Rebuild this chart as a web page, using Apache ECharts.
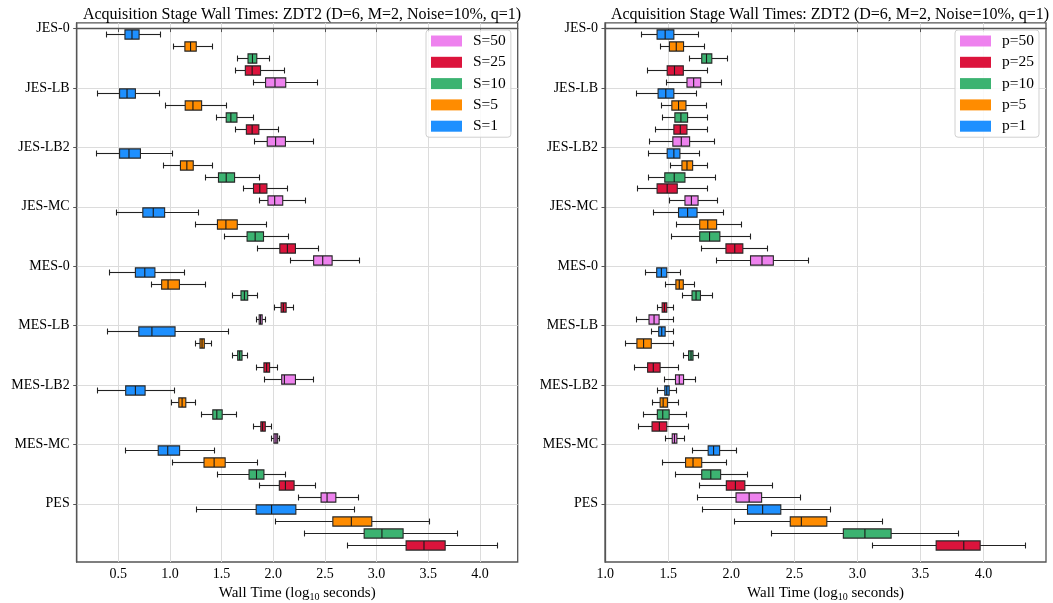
<!DOCTYPE html>
<html>
<head>
<meta charset="utf-8">
<script src="https://cdn.jsdelivr.net/npm/echarts@6/dist/echarts.min.js"></script>
<style>
  html, body { margin: 0; padding: 0; background: #fff; }
  #chart { width: 1053px; height: 603px; }
</style>
</head>
<body>
<div id="chart"></div>
<script>
// categories (top to bottom)
var categories = ['JES-0', 'JES-LB', 'JES-LB2', 'JES-MC', 'MES-0', 'MES-LB', 'MES-LB2', 'MES-MC', 'PES'];
var leftNames = ['S=1', 'S=5', 'S=10', 'S=25', 'S=50'];
var rightNames = ['p=1', 'p=5', 'p=10', 'p=25', 'p=50'];
var colors = ['#1E90FF', '#FF8C00', '#3CB371', '#DC143C', '#EE82EE'];
var leftTicks = [0.5, 1.0, 1.5, 2.0, 2.5, 3.0, 3.5, 4.0];
var rightTicks = [1.0, 1.5, 2.0, 2.5, 3.0, 3.5, 4.0];

// each entry: [whisker low, q1, median, q3, whisker high] (log10 seconds)
var s1 = [
  [0.383, 0.565, 0.633, 0.702, 0.910],
  [0.298, 0.513, 0.585, 0.666, 0.897],
  [0.292, 0.513, 0.604, 0.715, 1.024],
  [0.480, 0.738, 0.839, 0.949, 1.275],
  [0.415, 0.666, 0.757, 0.855, 1.138],
  [0.399, 0.699, 0.826, 1.050, 1.568],
  [0.295, 0.572, 0.666, 0.760, 1.040],
  [0.572, 0.887, 0.979, 1.094, 1.428],
  [1.255, 1.835, 1.984, 2.219, 2.785]
];
var s5 = [
  [1.037, 1.145, 1.200, 1.255, 1.415],
  [0.962, 1.148, 1.223, 1.307, 1.548],
  [0.939, 1.102, 1.164, 1.226, 1.415],
  [1.249, 1.460, 1.542, 1.652, 1.939],
  [0.819, 0.920, 0.982, 1.092, 1.346],
  [1.245, 1.291, 1.311, 1.333, 1.402],
  [1.018, 1.086, 1.118, 1.154, 1.252],
  [1.024, 1.330, 1.428, 1.535, 1.844],
  [2.023, 2.577, 2.756, 2.954, 3.508]
];
var s10 = [
  [1.659, 1.756, 1.799, 1.841, 1.968],
  [1.450, 1.545, 1.590, 1.649, 1.805],
  [1.340, 1.470, 1.545, 1.626, 1.870],
  [1.529, 1.747, 1.825, 1.906, 2.147],
  [1.610, 1.688, 1.721, 1.753, 1.851],
  [1.610, 1.656, 1.675, 1.698, 1.747],
  [1.307, 1.415, 1.454, 1.506, 1.643],
  [1.464, 1.766, 1.838, 1.910, 2.121],
  [2.307, 2.880, 3.052, 3.257, 3.788]
];
var s25 = [
  [1.633, 1.730, 1.796, 1.877, 2.105],
  [1.639, 1.740, 1.796, 1.861, 2.053],
  [1.717, 1.809, 1.870, 1.939, 2.137],
  [1.851, 2.064, 2.137, 2.215, 2.440],
  [2.017, 2.076, 2.098, 2.125, 2.193],
  [1.838, 1.910, 1.936, 1.965, 2.043],
  [1.812, 1.880, 1.897, 1.923, 1.988],
  [1.864, 2.059, 2.118, 2.202, 2.408],
  [2.717, 3.286, 3.459, 3.664, 4.172]
];
var s50 = [
  [1.812, 1.926, 2.017, 2.121, 2.427],
  [1.815, 1.942, 2.023, 2.118, 2.391],
  [1.864, 1.949, 2.014, 2.092, 2.313],
  [2.163, 2.391, 2.479, 2.570, 2.837],
  [1.835, 1.864, 1.877, 1.893, 1.923],
  [1.913, 2.082, 2.108, 2.215, 2.391],
  [1.988, 2.007, 2.027, 2.043, 2.063],
  [2.242, 2.463, 2.521, 2.606, 2.824],
  null
];

var p1 = [
  [1.291, 1.411, 1.475, 1.544, 1.739],
  [1.248, 1.419, 1.480, 1.544, 1.723],
  [1.344, 1.491, 1.544, 1.592, 1.749],
  [1.381, 1.581, 1.653, 1.728, 1.941],
  [1.317, 1.408, 1.445, 1.488, 1.595],
  [1.365, 1.424, 1.448, 1.475, 1.544],
  [1.416, 1.472, 1.488, 1.507, 1.563],
  [1.688, 1.816, 1.859, 1.907, 2.040],
  [1.773, 2.128, 2.248, 2.392, 2.787]
];
var p5 = [
  [1.437, 1.509, 1.563, 1.621, 1.789],
  [1.445, 1.528, 1.581, 1.640, 1.803],
  [1.517, 1.608, 1.648, 1.693, 1.813],
  [1.563, 1.749, 1.813, 1.883, 2.080],
  [1.480, 1.560, 1.587, 1.619, 1.704],
  [1.157, 1.251, 1.304, 1.365, 1.541],
  [1.371, 1.435, 1.459, 1.493, 1.579],
  [1.451, 1.637, 1.696, 1.765, 1.960],
  [2.027, 2.467, 2.555, 2.757, 3.197]
];
var p10 = [
  [1.667, 1.765, 1.803, 1.845, 1.968],
  [1.456, 1.552, 1.600, 1.653, 1.811],
  [1.339, 1.472, 1.547, 1.632, 1.875],
  [1.528, 1.749, 1.827, 1.909, 2.152],
  [1.613, 1.688, 1.720, 1.755, 1.853],
  [1.619, 1.661, 1.680, 1.696, 1.741],
  [1.307, 1.413, 1.456, 1.507, 1.643],
  [1.555, 1.765, 1.837, 1.915, 2.128],
  [2.315, 2.888, 3.059, 3.267, 3.800]
];
var p25 = [
  [1.333, 1.491, 1.549, 1.619, 1.808],
  [1.397, 1.544, 1.595, 1.648, 1.811],
  [1.253, 1.411, 1.491, 1.571, 1.808],
  [1.760, 1.957, 2.027, 2.091, 2.288],
  [1.416, 1.451, 1.469, 1.488, 1.544],
  [1.232, 1.336, 1.381, 1.435, 1.581],
  [1.261, 1.371, 1.429, 1.488, 1.664],
  [1.747, 1.960, 2.032, 2.107, 2.325],
  [3.123, 3.624, 3.843, 3.973, 4.336]
];
var p50 = [
  [1.485, 1.648, 1.701, 1.757, 1.923],
  [1.349, 1.536, 1.603, 1.669, 1.869],
  [1.507, 1.632, 1.683, 1.736, 1.891],
  [1.880, 2.152, 2.243, 2.333, 2.608],
  [1.248, 1.347, 1.387, 1.427, 1.544],
  [1.467, 1.557, 1.587, 1.621, 1.717],
  [1.475, 1.531, 1.549, 1.568, 1.632],
  [1.731, 2.037, 2.141, 2.240, 2.547],
  null
];

var leftSets = [s1, s5, s10, s25, s50];
var rightSets = [p1, p5, p10, p25, p50];

var FONT = 'Liberation Serif';
var chart = echarts.init(document.getElementById('chart'));

function crisp(v) {
  return Math.round(v - 0.5) + 0.5;
}

// box k sits at category index + 0.1 + 0.2*k
function makeRender(k) {
  return function (params, api) {
    var yPos = api.value(0) + 0.1 + 0.2 * k;
    var lo = api.coord([api.value(1), yPos]);
    var q1 = api.coord([api.value(2), yPos]);
    var md = api.coord([api.value(3), yPos]);
    var q3 = api.coord([api.value(4), yPos]);
    var hi = api.coord([api.value(5), yPos]);
    var bh = api.size([0, 0.155])[1];
    var ch = api.size([0, 0.1])[1];
    var y = crisp(lo[1]);
    var lineStyle = { stroke: '#222', lineWidth: 1.1 };
    return {
      type: 'group',
      children: [
        { type: 'line', shape: { x1: lo[0], y1: y, x2: q1[0], y2: y }, style: lineStyle },
        { type: 'line', shape: { x1: q3[0], y1: y, x2: hi[0], y2: y }, style: lineStyle },
        { type: 'line', shape: { x1: crisp(lo[0]), y1: y - ch / 2, x2: crisp(lo[0]), y2: y + ch / 2 }, style: lineStyle },
        { type: 'line', shape: { x1: crisp(hi[0]), y1: y - ch / 2, x2: crisp(hi[0]), y2: y + ch / 2 }, style: lineStyle },
        {
          type: 'rect',
          shape: { x: q1[0], y: y - bh / 2, width: q3[0] - q1[0], height: bh },
          style: { fill: colors[k], stroke: '#262626', lineWidth: 1.1 }
        },
        { type: 'line', shape: { x1: md[0], y1: y - bh / 2, x2: md[0], y2: y + bh / 2 }, style: { stroke: '#1a1a1a', lineWidth: 1.1 } }
      ]
    };
  };
}

function buildSeries(sets, names, gridIdx) {
  return sets.map(function (set, k) {
    var data = [];
    set.forEach(function (d, i) {
      if (d) data.push([i].concat(d));
    });
    return {
      name: names[k],
      type: 'custom',
      xAxisIndex: gridIdx,
      yAxisIndex: gridIdx,
      itemStyle: { color: colors[k] },
      encode: { x: [1, 2, 3, 4, 5], y: 0 },
      renderItem: makeRender(k),
      data: data,
      z: 3
    };
  });
}

function xAxisOf(gridIdx, min, max, ticks) {
  return {
    type: 'value',
    gridIndex: gridIdx,
    min: min,
    max: max,
    name: 'Wall Time (log{sub|10} seconds)',
    nameLocation: 'middle',
    nameGap: 21,
    nameTextStyle: {
      fontFamily: FONT, fontSize: 15, color: '#000',
      rich: { sub: { fontFamily: FONT, fontSize: 10, color: '#000', padding: [7, 0, 0, 0] } }
    },
    axisLine: { show: true, lineStyle: { color: '#555', width: 1.3 } },
    axisTick: { show: true, customValues: ticks, length: 3.5, inside: false, lineStyle: { color: '#555' } },
    axisLabel: {
      customValues: ticks, margin: 5, fontFamily: FONT, fontSize: 14, color: '#000',
      formatter: function (v) { return v.toFixed(1); }
    },
    splitLine: { show: true, lineStyle: { color: '#dcdcdc', width: 1 } }
  };
}

function yAxisOf(gridIdx) {
  var idx = categories.map(function (c, i) { return i; });
  return {
    type: 'value',
    gridIndex: gridIdx,
    inverse: true,
    min: -0.096,
    max: 8.98,
    axisLine: { show: true, lineStyle: { color: '#555', width: 1.3 } },
    axisTick: { show: true, customValues: idx, length: 3.5, lineStyle: { color: '#555' } },
    axisLabel: {
      customValues: idx, margin: 7, fontFamily: FONT, fontSize: 14, color: '#000',
      formatter: function (v) { return categories[Math.round(v)]; }
    },
    splitLine: { show: true, lineStyle: { color: '#dcdcdc', width: 1 } }
  };
}

function legendOf(names, left) {
  return {
    orient: 'vertical',
    left: left,
    top: 30,
    data: names.slice().reverse(),
    icon: 'rect',
    itemWidth: 31,
    itemHeight: 11,
    itemGap: 5.3,
    padding: [3, 5, 3, 5],
    backgroundColor: 'rgba(255,255,255,0.85)',
    borderColor: '#d0d0d0',
    borderWidth: 1,
    borderRadius: 3,
    selectedMode: false,
    textStyle: { fontFamily: FONT, fontSize: 15.5, color: '#000', lineHeight: 16, padding: [0, 0, 0, 6] }
  };
}

chart.setOption({
  backgroundColor: '#fff',
  animation: false,
  textStyle: { fontFamily: FONT },
  title: [
    { text: 'Acquisition Stage Wall Times: ZDT2 (D=6, M=2, Noise=10%, q=1)', left: 297, top: 2, textAlign: 'center',
      textStyle: { fontFamily: FONT, fontSize: 16, fontWeight: 'normal', color: '#000' } },
    { text: 'Acquisition Stage Wall Times: ZDT2 (D=6, M=2, Noise=10%, q=1)', left: 825, top: 2, textAlign: 'center',
      textStyle: { fontFamily: FONT, fontSize: 16, fontWeight: 'normal', color: '#000' } }
  ],
  legend: [legendOf(leftNames, 426), legendOf(rightNames, 955)],
  grid: [
    { left: 76.7, top: 22.9, width: 441, bottom: 41, show: true, borderColor: '#555', borderWidth: 1.3, backgroundColor: 'transparent', outerBoundsMode: 'none' },
    { left: 605, top: 22.9, width: 441, bottom: 41, show: true, borderColor: '#555', borderWidth: 1.3, backgroundColor: 'transparent', outerBoundsMode: 'none' }
  ],
  xAxis: [xAxisOf(0, 0.098, 4.366, leftTicks), xAxisOf(1, 0.998, 4.495, rightTicks)],
  yAxis: [yAxisOf(0), yAxisOf(1)],
  series: buildSeries(leftSets, leftNames, 0).concat(buildSeries(rightSets, rightNames, 1))
});
</script>
</body>
</html>
